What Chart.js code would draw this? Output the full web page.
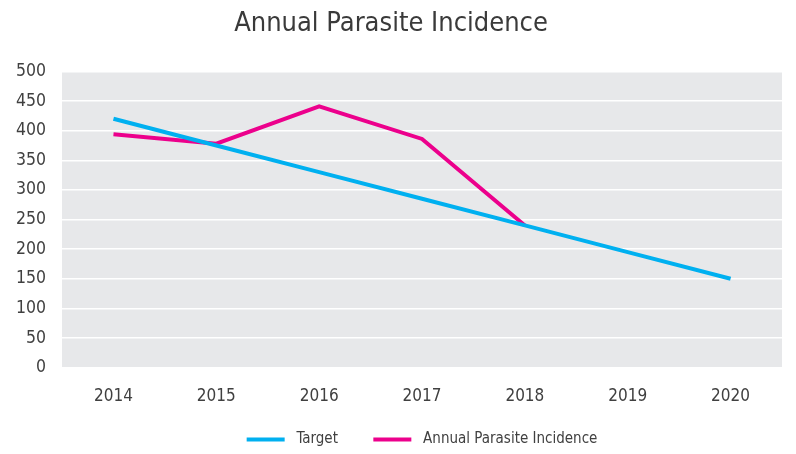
<!DOCTYPE html>
<html>
<head>
<meta charset="utf-8">
<script src="https://cdn.jsdelivr.net/npm/chart.js@4/dist/chart.umd.min.js"></script>
<style>
  html, body { margin: 0; padding: 0; background: #fff; }
  #wrap { width: 796px; height: 454px; position: relative; }
</style>
</head>
<body>
<div id="wrap"><canvas id="apiChart"></canvas></div>
<script>
const years = ['2014', '2015', '2016', '2017', '2018', '2019', '2020'];
const targetValues = [420, 375, 330, 285, 240, 195, 150];
const apiValues = [394, 378, 441, 386, 240, null, null];
const yTicks = [0, 50, 100, 150, 200, 250, 300, 350, 400, 450, 500];

const fontFamily = "'Liberation Sans Narrow', 'DejaVu Sans Condensed', 'Open Sans', sans-serif";

// grey plot background
const plotBg = {
    id: 'plotBg',
    beforeDraw(chart) {
        const a = chart.chartArea;
        const c = chart.ctx;
        c.save();
        c.fillStyle = '#E7E8EA';
        c.fillRect(a.left, a.top, a.right - a.left, a.bottom - a.top);
        c.restore();
    }
};

new Chart(document.getElementById('apiChart'), {
    type: 'line',
    data: {
        labels: years,
        datasets: [{
            label: 'Target',
            data: targetValues,
            borderColor: '#00B0F0',
            backgroundColor: '#00B0F0',
            borderWidth: 4,
            pointRadius: 0,
            tension: 0
        }, {
            label: 'Annual Parasite Incidence',
            data: apiValues,
            borderColor: '#EC008C',
            backgroundColor: '#EC008C',
            borderWidth: 4,
            pointRadius: 0,
            tension: 0
        }]
    },
    options: {
        responsive: true,
        maintainAspectRatio: false,
        animation: false,
        layout: { padding: { left: 0, right: 14, top: 4, bottom: -3 } },
        plugins: {
            title: {
                display: true,
                text: 'Annual Parasite Incidence',
                color: '#3A3A3A',
                font: { family: fontFamily, size: 27, weight: 'normal' },
                padding: { top: 4, bottom: 31 }
            },
            legend: {
                position: 'bottom',
                fullSize: false,
                labels: {
                    color: '#404040',
                    font: { family: fontFamily, size: 15 },
                    boxWidth: 38,
                    boxHeight: 4,
                    padding: 14,
                    // a bit more room between swatch, text and next item
                    generateLabels(chart) {
                        const items = Chart.defaults.plugins.legend.labels.generateLabels(chart);
                        items.forEach((it, i) => {
                            it.text = ' ' + it.text + (i < items.length - 1 ? '     ' : '');
                            it.lineWidth = 0;
                        });
                        return items;
                    }
                }
            },
            tooltip: { enabled: false }
        },
        scales: {
            x: {
                offset: true,
                grid: { display: false },
                border: { display: false },
                ticks: {
                    color: '#404040',
                    font: { family: fontFamily, size: 17 },
                    padding: 11
                }
            },
            y: {
                min: 0,
                max: 500,
                afterBuildTicks(axis) {
                    axis.ticks = yTicks.map(v => ({ value: v }));
                },
                grid: { color: '#FFFFFF', lineWidth: 1.5, drawTicks: false },
                border: { display: false },
                ticks: {
                    color: '#404040',
                    font: { family: fontFamily, size: 17.5 },
                    padding: 16
                }
            }
        }
    },
    plugins: [plotBg]
});
</script>
</body>
</html>
